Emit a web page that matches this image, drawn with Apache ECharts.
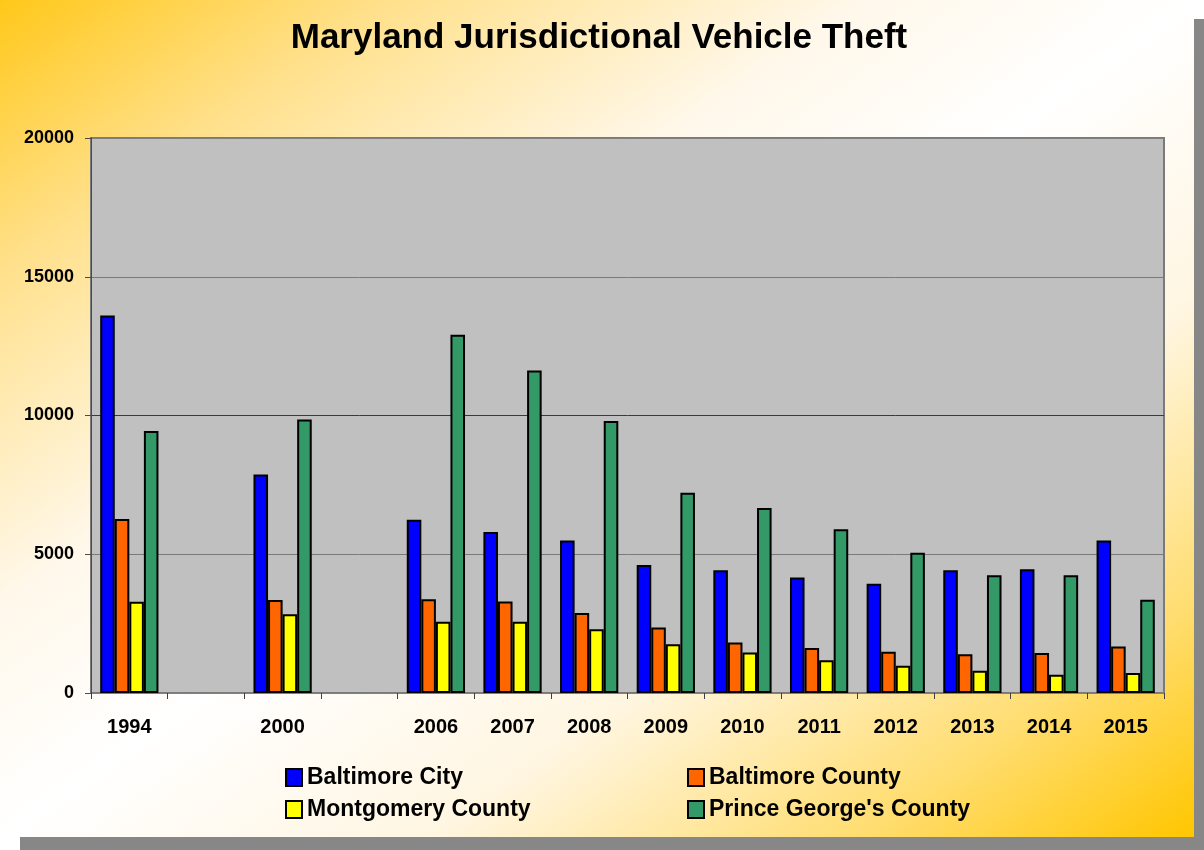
<!DOCTYPE html>
<html>
<head>
<meta charset="utf-8">
<script src="https://cdn.jsdelivr.net/npm/echarts@6/dist/echarts.min.js"></script>
<style>
  html, body { margin: 0; padding: 0; background: #ffffff; }
  #card { position: absolute; left: 0; top: 0; width: 1194px; height: 837px;
    background: linear-gradient(to bottom right, #FFC81A 0%, #FFE08A 16%, #FFF8EA 36%, #FFFFFF 50%, #FFF6E2 68%, #FFDD70 86%, #FFC600 100%); }
  #shR { position: absolute; left: 1194px; top: 19px; width: 10px; height: 831px; background: #878787; }
  #shB { position: absolute; left: 20px; top: 837px; width: 1184px; height: 13px; background: #878787; }
  #chart { position: absolute; left: 0; top: 0; width: 1204px; height: 850px; }
</style>
</head>
<body>
<div id="card"></div>
<div id="shR"></div>
<div id="shB"></div>
<div id="chart"></div>
<script>
const titleText = 'Maryland Jurisdictional Vehicle Theft';
const categories = ['1994', '', '2000', '', '2006', '2007', '2008', '2009', '2010', '2011', '2012', '2013', '2014', '2015'];
const yTicks = [0, 5000, 10000, 15000, 20000];
const seriesNames = ['Baltimore City', 'Baltimore County', 'Montgomery County', "Prince George's County"];
const baltimoreCity    = [13600, null, 7870, null, 6240, 5800, 5500, 4610, 4420, 4160, 3940, 4420, 4460, 5500];
const baltimoreCounty  = [6270, null, 3350, null, 3380, 3300, 2880, 2360, 1820, 1620, 1490, 1400, 1440, 1680];
const montgomeryCounty = [3290, null, 2840, null, 2570, 2570, 2300, 1760, 1460, 1180, 980, 800, 660, 720];
const princeGeorges    = [9440, null, 9860, null, 12910, 11620, 9800, 7220, 6670, 5900, 5050, 4240, 4240, 3360];
const colors = ['#0000FF', '#FF6600', '#FFFF00', '#339966'];

const seriesData = [baltimoreCity, baltimoreCounty, montgomeryCounty, princeGeorges];

const chart = echarts.init(document.getElementById('chart'), null, { renderer: 'canvas' });
const fontFam = '"Liberation Sans", Arial, sans-serif';

const legendCommon = {
  orient: 'vertical',
  top: 766,
  padding: 0,
  icon: 'rect',
  itemWidth: 16, itemHeight: 17, itemGap: 9,
  textStyle: { fontFamily: fontFam, fontWeight: 'bold', fontSize: 23, color: '#000' }
};

chart.setOption({
  backgroundColor: 'transparent',
  animation: false,
  title: {
    text: titleText,
    left: 594,
    top: 16,
    textAlign: 'center',
    textStyle: { fontFamily: fontFam, fontWeight: 'bold', fontSize: 35, color: '#000' }
  },
  legend: [
    Object.assign({ data: [seriesNames[0], seriesNames[2]], left: 285 }, legendCommon),
    Object.assign({ data: [seriesNames[1], seriesNames[3]], left: 687 }, legendCommon)
  ],
  grid: {
    left: 91, right: 40, top: 138, bottom: 157,
    show: true,
    backgroundColor: '#C0C0C0',
    borderColor: '#7a7a7a',
    borderWidth: 2
  },
  xAxis: {
    type: 'category',
    data: categories,
    boundaryGap: true,
    axisLine: { show: true, lineStyle: { color: '#808080', width: 1 } },
    axisTick: { show: true, alignWithLabel: false, length: 6, lineStyle: { color: '#404040' }, interval: 0 },
    axisLabel: { interval: 0, margin: 24, fontFamily: fontFam, fontWeight: 'bold', fontSize: 20, color: '#000' },
    splitLine: { show: false }
  },
  yAxis: {
    type: 'value',
    min: yTicks[0],
    max: yTicks[yTicks.length - 1],
    interval: yTicks[1] - yTicks[0],
    axisLine: { show: true, lineStyle: { color: '#504a40', width: 1 } },
    axisTick: { show: true, length: 6, lineStyle: { color: '#504a40' } },
    axisLabel: { margin: 17, fontFamily: fontFam, fontWeight: 'bold', fontSize: 18, color: '#000',
      formatter: v => String(v) },
    splitLine: { show: true, lineStyle: { color: ['#808080', '#7a7a7a', '#3a3a3a', '#7a7a7a', '#808080'], width: 1 } }
  },
  series: seriesNames.map((name, i) => ({
    name: name,
    type: 'bar',
    data: seriesData[i],
    barGap: '0%',
    barCategoryGap: '24%',
    itemStyle: { color: colors[i], borderColor: '#000', borderWidth: 2 }
  }))
});
</script>
</body>
</html>
